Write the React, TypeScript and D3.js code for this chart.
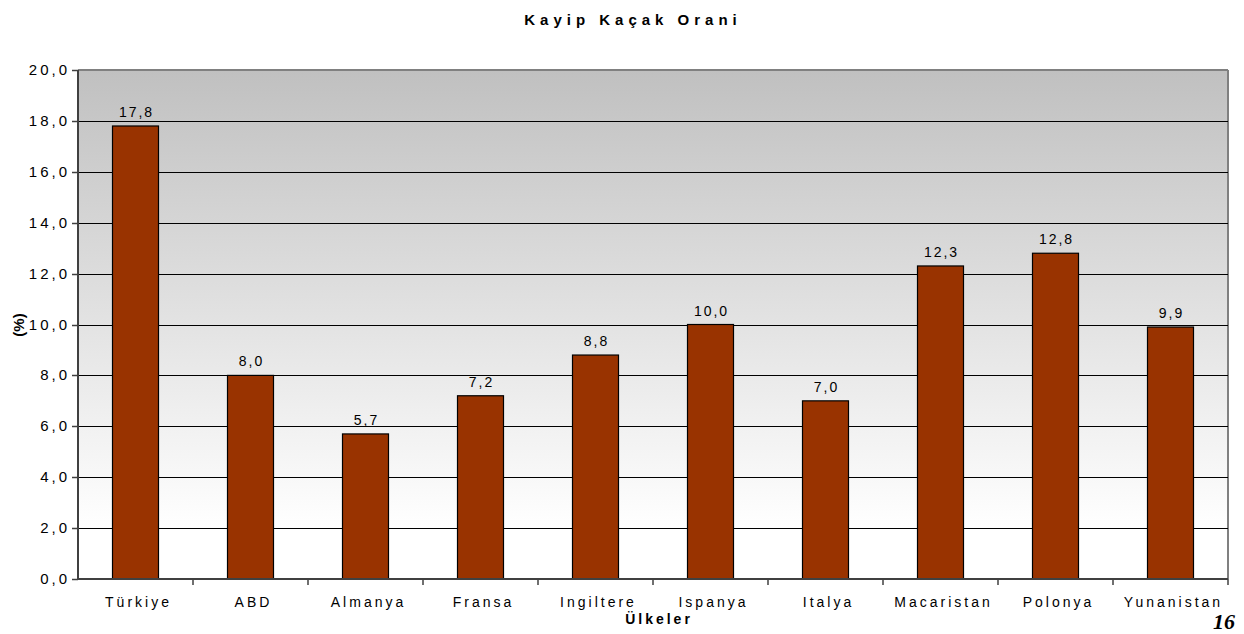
import React from "react";
import * as d3 from "d3";

const categories = ["Türkiye", "ABD", "Almanya", "Fransa", "Ingiltere", "Ispanya", "Italya", "Macaristan", "Polonya", "Yunanistan"];
const values = [17.8, 8.0, 5.7, 7.2, 8.8, 10.0, 7.0, 12.3, 12.8, 9.9];
const yTicks = [0, 2, 4, 6, 8, 10, 12, 14, 16, 18, 20];
const title = "Kayip Kaçak Orani";
const xTitle = "Ülkeler";
const yTitle = "(%)";
const pageNo = "16";

const W = 1244;
const H = 634;
const left = 78;
const right = 1228;
const top = 70;
const bottom = 579;

const fmt = (v: number) => v.toFixed(1).replace(".", ",");

export default function App() {
  const x = d3.scaleBand<string>().domain(categories).range([left, right]).paddingInner(0.6).paddingOuter(0.3);
  const xb = d3.scaleBand<string>().domain(categories).range([left, right]);
  const y = d3.scaleLinear().domain([0, 20]).range([bottom, top]);
  const font = "'Liberation Sans', Arial, sans-serif";

  return (
    <svg width={W} height={H} style={{ position: "absolute", left: 0, top: 0, display: "block" }} fontFamily={font}>
      <defs>
        <linearGradient id="bg" x1="0" y1="0" x2="0" y2="1">
          <stop offset="0" stopColor="#c0c0c0" />
          <stop offset="0.9" stopColor="#ffffff" />
          <stop offset="1" stopColor="#ffffff" />
        </linearGradient>
      </defs>
      <rect x={0} y={0} width={W} height={H} fill="#fff" />
      <rect x={left} y={top} width={right - left} height={bottom - top} fill="url(#bg)" />
      <line x1={left} x2={right} y1={top} y2={top} stroke="#808080" strokeWidth={2} />
      <line x1={right} x2={right} y1={top} y2={bottom} stroke="#808080" strokeWidth={2} />
      {yTicks.filter((t) => t > 0 && t < 20).map((t) => (
        <line key={"g" + t} x1={left} x2={right} y1={Math.round(y(t)) + 0.5} y2={Math.round(y(t)) + 0.5} stroke="#000" strokeWidth={1} />
      ))}
      {categories.map((c, i) => (
        <rect key={"b" + c} x={x(c)!} y={y(values[i])} width={x.bandwidth()} height={bottom - y(values[i])} fill="#993300" stroke="#000" strokeWidth={1.2} />
      ))}
      {categories.map((c, i) => (
        <text key={"v" + c} x={x(c)! + x.bandwidth() / 2 + 1} y={y(values[i]) - 9} textAnchor="middle" fontSize={14} letterSpacing={2} fill="#000">
          {fmt(values[i])}
        </text>
      ))}
      <line x1={left} x2={left} y1={top} y2={bottom} stroke="#404040" strokeWidth={2} />
      {yTicks.map((t) => (
        <g key={"t" + t}>
          <line x1={left - 6} x2={left} y1={Math.round(y(t)) + 0.5} y2={Math.round(y(t)) + 0.5} stroke="#404040" strokeWidth={1.5} />
          <text x={left - 8} y={y(t) + 5} textAnchor="end" fontSize={15} letterSpacing={3} fill="#000">
            {fmt(t)}
          </text>
        </g>
      ))}
      <line x1={left} x2={right} y1={bottom} y2={bottom} stroke="#404040" strokeWidth={2} />
      {categories.map((c) => (
        <line key={"xt" + c} x1={xb(c)! + xb.bandwidth()} x2={xb(c)! + xb.bandwidth()} y1={bottom} y2={bottom + 6} stroke="#404040" strokeWidth={1.5} />
      ))}
      {categories.map((c) => (
        <text key={"xl" + c} x={x(c)! + x.bandwidth() / 2 + 3} y={607} textAnchor="middle" fontSize={14} letterSpacing={3} fill="#000">
          {c}
        </text>
      ))}
      <text x={659} y={624} textAnchor="middle" fontSize={14} fontWeight="bold" letterSpacing={3} fill="#000">
        {xTitle}
      </text>
      <text transform={`translate(24,${325}) rotate(-90)`} textAnchor="middle" fontSize={15} fontWeight="bold" fill="#000">
        {yTitle}
      </text>
      <text x={633} y={25} textAnchor="middle" fontSize={15} fontWeight="bold" letterSpacing={5} fill="#000">
        {title}
      </text>
      <text x={1235} y={629} textAnchor="end" fontSize={22} fontWeight="bold" fontStyle="italic" fontFamily="'Liberation Serif', 'Times New Roman', serif" fill="#000">
        {pageNo}
      </text>
    </svg>
  );
}
